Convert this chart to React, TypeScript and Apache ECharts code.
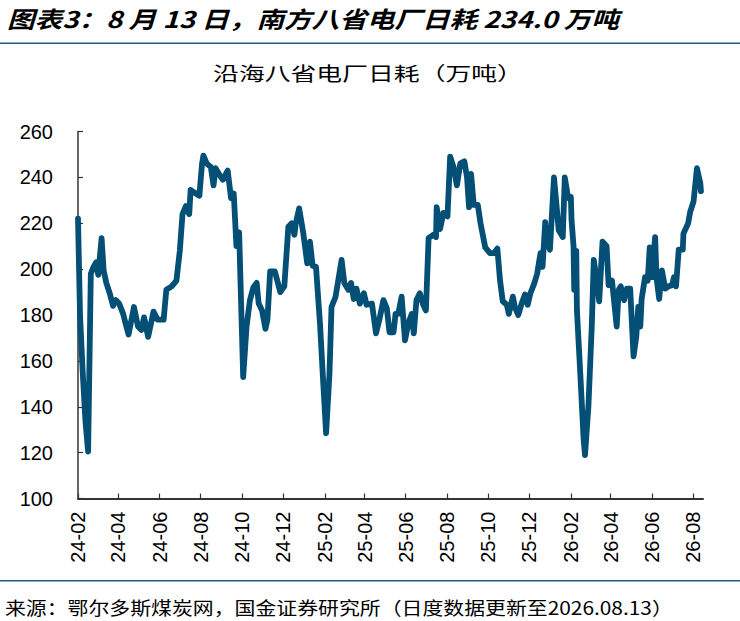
import React, { useEffect, useRef } from "react";
import * as echarts from "echarts";

const START = "2024-02-01";
const END = "2026-08-16";

const obsDates: string[] = [
  "2024-02-01","2024-02-04","2024-02-08","2024-02-12","2024-02-16","2024-02-20","2024-02-24","2024-02-28",
  "2024-03-02","2024-03-07","2024-03-10","2024-03-14","2024-03-19","2024-03-24","2024-03-28",
  "2024-04-02","2024-04-08","2024-04-11","2024-04-16","2024-04-24","2024-04-30",
  "2024-05-05","2024-05-09","2024-05-15","2024-05-23","2024-05-29",
  "2024-06-07","2024-06-11","2024-06-19","2024-06-26",
  "2024-07-01","2024-07-05","2024-07-10","2024-07-15","2024-07-17","2024-07-22","2024-07-30",
  "2024-08-03","2024-08-05","2024-08-10","2024-08-16","2024-08-20","2024-08-23","2024-08-29",
  "2024-09-03","2024-09-10","2024-09-15","2024-09-19","2024-09-23","2024-09-27","2024-09-29",
  "2024-10-03","2024-10-08","2024-10-13","2024-10-18","2024-10-23","2024-10-26","2024-10-31",
  "2024-11-05","2024-11-08","2024-11-12","2024-11-19","2024-11-27",
  "2024-12-03","2024-12-09","2024-12-14","2024-12-18","2024-12-20","2024-12-25","2024-12-31",
  "2025-01-06","2025-01-10","2025-01-14","2025-01-19","2025-01-25","2025-01-30",
  "2025-02-03","2025-02-08","2025-02-11","2025-02-17","2025-02-26",
  "2025-03-02","2025-03-08","2025-03-12","2025-03-16","2025-03-20","2025-03-25","2025-03-31",
  "2025-04-04","2025-04-12","2025-04-18","2025-04-23","2025-04-29",
  "2025-05-04","2025-05-08","2025-05-14","2025-05-17","2025-05-21","2025-05-26","2025-05-31",
  "2025-06-05","2025-06-10","2025-06-13","2025-06-17","2025-06-22","2025-06-27",
  "2025-07-01","2025-07-05","2025-07-12","2025-07-16","2025-07-17","2025-07-22","2025-07-27",
  "2025-08-02","2025-08-06","2025-08-11","2025-08-16","2025-08-21","2025-08-27","2025-08-31",
  "2025-09-03","2025-09-06","2025-09-10","2025-09-16","2025-09-20","2025-09-27",
  "2025-10-04","2025-10-10","2025-10-15","2025-10-19","2025-10-23","2025-10-29",
  "2025-11-01","2025-11-07","2025-11-10","2025-11-15","2025-11-20","2025-11-25","2025-11-29",
  "2025-12-03","2025-12-09","2025-12-13","2025-12-18","2025-12-21","2025-12-25","2025-12-27",
  "2026-01-01","2026-01-07","2026-01-11","2026-01-14","2026-01-20","2026-01-23","2026-01-28",
  "2026-02-01","2026-02-02","2026-02-05","2026-02-06","2026-02-09","2026-02-10","2026-02-15","2026-02-20","2026-02-22","2026-02-27",
  "2026-03-04","2026-03-07","2026-03-12","2026-03-15","2026-03-20","2026-03-26","2026-03-29",
  "2026-04-03","2026-04-10","2026-04-13","2026-04-16","2026-04-21","2026-04-25","2026-04-30",
  "2026-05-05","2026-05-09","2026-05-12","2026-05-15","2026-05-17","2026-05-22","2026-05-26","2026-05-29",
  "2026-06-01","2026-06-06","2026-06-08","2026-06-12","2026-06-16","2026-06-21","2026-06-26",
  "2026-07-01","2026-07-04","2026-07-07","2026-07-11","2026-07-17","2026-07-18","2026-07-25","2026-07-28",
  "2026-08-02","2026-08-07","2026-08-12","2026-08-13",
];

const dailyBurn: number[] = [
  222,180,155,134,120.5,198,201,203,
  197.5,213.5,199.5,194,189.5,184,186.5,
  185,180.5,177,171.5,183.5,175,
  173.5,179,170.5,181.5,178,
  178,191,192.5,195,
  208,224,227.5,224,234.5,233.5,232,
  246,249.5,246,244.5,236.5,244,241,
  239,243,231,233,210,216,195,
  153,175,186.5,192,194,185,182,
  174,178,199,199,190,
  192.5,218.5,220,215,220,226.5,216,
  202.5,212,201.5,201,176,149,
  128.5,154.5,183.5,188,204,
  194,191,194,187,191.5,185,189.5,
  184.5,185,172,178,186.5,
  183,172.5,172.5,180.5,180.5,188,169,
  176.5,180.5,172,186.5,189.5,184.5,
  182,213.5,215,214,227,217.5,224.5,
  223,249,244.5,236.5,246,247,240,
  227,241.5,228,228,220,209.5,
  207,207,209,195,186,184.5,
  180.5,188,183.5,180,185,189,184.5,
  189.5,194,198,207,201,220.5,212.5,
  208.5,240,227,217,214,240,231,
  231.5,221.5,210,191,208,182,154.5,125.5,119,140,
  175,204,194,186,212,210,193,
  195,175,191,192.5,186.5,191.5,191.5,
  162,170.5,183.5,175,187,196.5,195,209.5,
  196.5,214,196.5,187,199.5,191.5,192.5,
  193,196.5,192.5,208.5,208.5,215.5,220,225,
  229.5,244,237.5,234,
];

const yTicks = { min: 100, max: 260, step: 20 };

const mainTitle = "图表3：8 月 13 日，南方八省电厂日耗 234.0 万吨";
const chartTitle = "沿海八省电厂日耗（万吨）";
const sourceNote = "来源：鄂尔多斯煤炭网，国金证券研究所（日度数据更新至2026.08.13）";

const DAY = 86400000;
const toUTC = (s: string) => {
  const [y, m, d] = s.split("-").map(Number);
  return Date.UTC(y, m - 1, d);
};
const pad = (n: number) => (n < 10 ? "0" + n : "" + n);

const categories: string[] = [];
for (let t = toUTC(START); t <= toUTC(END); t += DAY) {
  const dt = new Date(t);
  categories.push(`${dt.getUTCFullYear()}-${pad(dt.getUTCMonth() + 1)}-${pad(dt.getUTCDate())}`);
}
const isTick = (v: string) => v.endsWith("-01") && parseInt(v.slice(5, 7), 10) % 2 === 0;

export default function App() {
  const ref = useRef<HTMLDivElement>(null);
  useEffect(() => {
    if (!ref.current) return;
    const chart = echarts.init(ref.current, undefined, { renderer: "svg" });
    const base = toUTC(START);
    const seriesData = obsDates.map((d, i) => [Math.round((toUTC(d) - base) / DAY), dailyBurn[i]]);
    chart.setOption({
      animation: false,
      backgroundColor: "#ffffff",
      grid: { left: 78, right: 37, top: 131.5, bottom: 122.4, containLabel: false },
      xAxis: {
        type: "category",
        data: categories,
        boundaryGap: false,
        axisLine: { lineStyle: { color: "#333333", width: 2 } },
        axisTick: {
          inside: true,
          length: 5,
          interval: (_i: number, v: string) => isTick(v),
          lineStyle: { color: "#333333", width: 1.2 },
        },
        axisLabel: {
          interval: (_i: number, v: string) => isTick(v),
          rotate: 90,
          margin: 13,
          formatter: (v: string) => v.slice(2, 7),
          fontSize: 20,
          color: "#000000",
          fontFamily: "Liberation Sans, Arial, sans-serif",
        },
        splitLine: { show: false },
      },
      yAxis: {
        type: "value",
        min: yTicks.min,
        max: yTicks.max,
        interval: yTicks.step,
        axisLine: { show: true, lineStyle: { color: "#333333", width: 1.5 } },
        axisTick: { show: true, inside: true, length: 5, lineStyle: { color: "#333333", width: 1.2 } },
        splitLine: { show: false },
        axisLabel: {
          fontSize: 20,
          margin: 25,
          color: "#000000",
          fontFamily: "Liberation Sans, Arial, sans-serif",
        },
      },
      series: [
        {
          type: "line",
          data: seriesData,
          showSymbol: false,
          smooth: false,
          lineStyle: { color: "#034F75", width: 5.8, cap: "round", join: "round" },
        },
      ],
      graphic: [
        { type: "rect", shape: { x: 0, y: 42.5, width: 740, height: 1.6 }, style: { fill: "#1F5A7E" } },
        { type: "rect", shape: { x: 0, y: 580, width: 740, height: 1.6 }, style: { fill: "#1F5A7E" } },
        {
          type: "text",
          x: 7,
          y: 18,
          scaleX: 1.2,
          style: {
            text: mainTitle,
            fontSize: 23,
            fontWeight: "bold",
            fontStyle: "italic",
            fontFamily: "Noto Sans CJK SC",
            fill: "#000000",
            align: "left",
            verticalAlign: "middle",
          },
        },
        {
          type: "text",
          x: 368,
          y: 73,
          scaleX: 1.36,
          style: {
            text: chartTitle,
            fontSize: 19,
            fontFamily: "Noto Sans CJK SC",
            fill: "#000000",
            align: "center",
            verticalAlign: "middle",
          },
        },
        {
          type: "text",
          x: 5,
          y: 607,
          scaleX: 1.16,
          style: {
            text: sourceNote,
            fontSize: 18,
            fontFamily: "Noto Sans CJK SC",
            fill: "#000000",
            align: "left",
            verticalAlign: "middle",
          },
        },
      ],
    });
    return () => chart.dispose();
  }, []);
  return (
    <div
      ref={ref}
      style={{ position: "fixed", left: 0, top: 0, width: 740, height: 621, background: "#fff" }}
    />
  );
}
